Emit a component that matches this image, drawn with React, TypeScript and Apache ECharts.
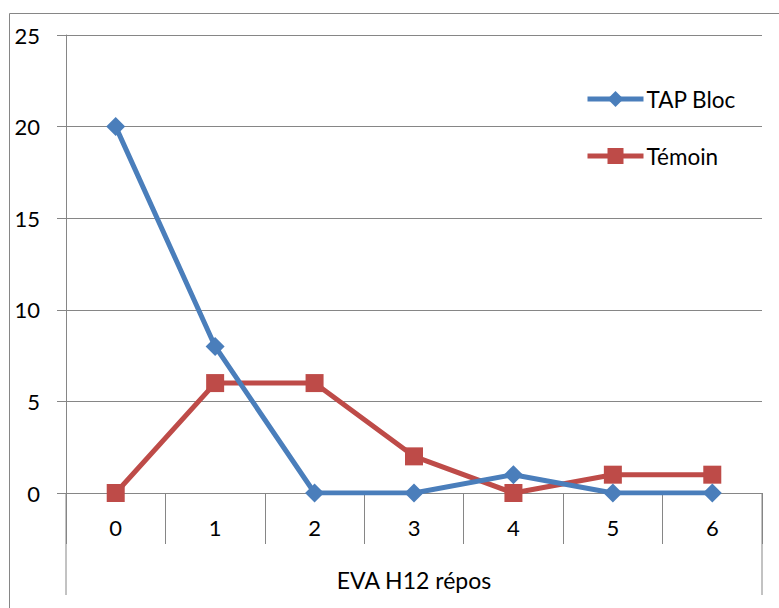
import React, { useEffect, useRef } from "react";
import * as echarts from "echarts";

const categories = ["0", "1", "2", "3", "4", "5", "6"];
const tapBloc = [20, 8, 0, 0, 1, 0, 0];
const temoin = [0, 6, 6, 2, 0, 1, 1];
const seriesNames = ["TAP Bloc", "Témoin"];
const xAxisTitle = "EVA H12 répos";

const W = 779;
const H = 608;
const GRID_LEFT = 66;
const GRID_RIGHT = 17;
const GRID_TOP = 35;
const GRID_BOTTOM = 115;
const GRAY = "#868686";
const FONT = "Lato";

export default function App() {
  const ref = useRef<HTMLDivElement>(null);
  useEffect(() => {
    if (!ref.current) return;
    const chart = echarts.init(ref.current, undefined, { renderer: "svg" });
    const axisY = H - GRID_BOTTOM;
    const rightX = W - GRID_RIGHT;
    chart.setOption({
      animation: false,
      backgroundColor: "#ffffff",
      grid: { left: GRID_LEFT, right: GRID_RIGHT, top: GRID_TOP, bottom: GRID_BOTTOM, containLabel: false },
      legend: {
        orient: "vertical",
        left: 580,
        top: 82,
        itemWidth: 56,
        itemHeight: 20,
        itemGap: 33,
        data: seriesNames,
        lineStyle: { width: 5 },
        textStyle: { fontFamily: FONT, fontSize: 22.5, color: "#000", lineHeight: 24, padding: [0, 0, 0, -2] },
      },
      xAxis: {
        type: "category",
        data: categories,
        boundaryGap: true,
        name: xAxisTitle,
        nameLocation: "middle",
        nameGap: 87,
        nameTextStyle: { fontFamily: FONT, fontSize: 23, color: "#000", verticalAlign: "middle" },
        axisLine: { show: true, lineStyle: { color: GRAY, width: 1 } },
        axisTick: { show: true, length: 51, interval: 0, lineStyle: { color: GRAY, width: 1 } },
        axisLabel: { fontFamily: FONT, fontSize: 22, color: "#000", margin: 23, interval: 0 },
        splitLine: { show: false },
      },
      yAxis: {
        type: "value",
        min: 0,
        max: 25,
        interval: 5,
        axisLine: { show: true, lineStyle: { color: GRAY, width: 1 } },
        axisTick: { show: true, length: 9, lineStyle: { color: GRAY, width: 1 } },
        axisLabel: { fontFamily: FONT, fontSize: 22, color: "#000", margin: 26 },
        splitLine: { show: true, lineStyle: { color: GRAY, width: 1 } },
      },
      graphic: [
        {
          type: "rect",
          shape: { x: 9.5, y: 13.5, width: 900, height: 800 },
          style: { fill: "none", stroke: GRAY, lineWidth: 1 },
          silent: true,
        },
        {
          type: "line",
          shape: { x1: GRID_LEFT, y1: axisY, x2: GRID_LEFT, y2: 595 },
          style: { stroke: GRAY, lineWidth: 1 },
          silent: true,
        },
        {
          type: "line",
          shape: { x1: rightX, y1: axisY, x2: rightX, y2: 595 },
          style: { stroke: GRAY, lineWidth: 1 },
          silent: true,
        },
      ],
      series: [
        {
          name: seriesNames[0],
          type: "line",
          data: tapBloc,
          symbol: "diamond",
          symbolSize: 19,
          itemStyle: { color: "#4A7EBB" },
          lineStyle: { color: "#4A7EBB", width: 5 },
          z: 3,
        },
        {
          name: seriesNames[1],
          type: "line",
          data: temoin,
          symbol: "rect",
          symbolSize: 18,
          itemStyle: { color: "#BE4B48" },
          lineStyle: { color: "#BE4B48", width: 5 },
          z: 2,
        },
      ],
    });
    return () => chart.dispose();
  }, []);
  return (
    <div
      ref={ref}
      style={{ position: "fixed", left: 0, top: 0, width: W, height: H, background: "#fff" }}
    />
  );
}
